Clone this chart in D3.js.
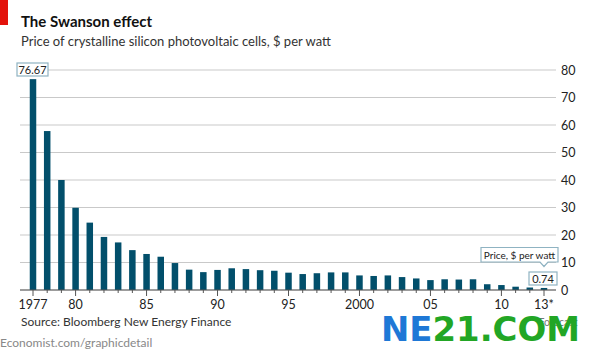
<!DOCTYPE html>
<meta charset="utf-8">
<head>
  <style>
  body { margin: 0; background: #fff; }
  svg { font-family: Lato, "Open Sans", sans-serif; }
  .grid line { stroke: #c9c9c9; stroke-width: 1; }
  .ylab { font-size: 12.5px; fill: #222; }
  .xlab { font-size: 12.5px; fill: #222; }
  .bar { fill: #024f6b; }
  .callout rect { fill: #fff; stroke: #8fb3c2; stroke-width: 1.2; }
  .callout text { font-size: 11px; fill: #222; }
  </style>
</head>
<body>
<svg width="595" height="353"></svg>
<script src="https://cdn.jsdelivr.net/npm/d3@7"></script>
<script>

// years 1977 - 2013 (2013 is a forecast)
var years = d3.range(1977, 2014);
var prices = [76.67, 57.8, 40.0, 29.9, 24.5, 19.3, 17.3, 14.5, 13.1, 12.1,
              9.8, 7.4, 6.5, 7.3, 7.9, 7.6, 7.2, 7.0, 6.3, 5.8,
              6.1, 6.4, 6.4, 5.3, 5.1, 5.3, 4.7, 4.2, 3.6, 3.9,
              3.8, 3.9, 2.1, 1.8, 1.2, 0.9, 0.74];
var yTicks = [0, 10, 20, 30, 40, 50, 60, 70, 80];
var xTickYears = [1977, 1980, 1985, 1990, 1995, 2000, 2005, 2010, 2013];
var xTickLabels = ["1977", "80", "85", "90", "95", "2000", "05", "10", "13*"];

var svg = d3.select("svg");

var x = d3.scalePoint().domain(years).range([33, 544]);
var y = d3.scaleLinear().domain([0, 80]).range([290, 70]);
var barW = 6.5;

// red tag + titles
svg.append("rect").attr("x", 0).attr("y", 0).attr("width", 8).attr("height", 25).attr("fill", "#e3120b");
svg.append("text").attr("x", 21).attr("y", 27)
   .style("font-size", "15px").style("font-weight", "bold").attr("fill", "#111")
   .text("The Swanson effect");
svg.append("text").attr("x", 21).attr("y", 46)
   .style("font-size", "13px").attr("fill", "#333")
   .text("Price of crystalline silicon photovoltaic cells, $ per watt");

// gridlines
var grid = svg.append("g").attr("class", "grid");
grid.selectAll("line").data(yTicks).enter().append("line")
    .attr("x1", 20).attr("x2", 556)
    .attr("y1", function(d) { return y(d); })
    .attr("y2", function(d) { return y(d); });

grid.selectAll("text").data(yTicks).enter().append("text")
    .attr("class", "ylab")
    .attr("x", 561)
    .attr("y", function(d) { return y(d) + 4.5; })
    .text(function(d) { return d; });

// bars
svg.selectAll(".bar").data(prices).enter().append("rect")
    .attr("class", "bar")
    .attr("x", function(d, i) { return x(years[i]) - barW / 2; })
    .attr("y", function(d) { return y(d); })
    .attr("width", barW)
    .attr("height", function(d) { return y(0) - y(d); });

// baseline + ticks
svg.append("line").attr("x1", 20).attr("x2", 556)
   .attr("y1", y(0)).attr("y2", y(0)).attr("stroke", "#555").attr("stroke-width", 1);

svg.selectAll(".tick").data(years).enter().append("line")
    .attr("x1", function(d) { return x(d); })
    .attr("x2", function(d) { return x(d); })
    .attr("y1", y(0))
    .attr("y2", function(d) { return xTickYears.indexOf(d) >= 0 ? y(0) + 6 : y(0) + 3; })
    .attr("stroke", "#555").attr("stroke-width", 1);

svg.selectAll(".xlab").data(xTickYears).enter().append("text")
    .attr("class", "xlab")
    .attr("x", function(d) { return x(d); })
    .attr("y", 309)
    .attr("text-anchor", "middle")
    .text(function(d, i) { return xTickLabels[i]; });

// callouts
var c1 = svg.append("g").attr("class", "callout");
c1.append("rect").attr("x", 17).attr("y", 63).attr("width", 31).attr("height", 13);
c1.append("text").attr("x", 32.5).attr("y", 73.5).attr("text-anchor", "middle").text("76.67");

var c2 = svg.append("g").attr("class", "callout");
c2.append("rect").attr("x", 529).attr("y", 272).attr("width", 28).attr("height", 13);
c2.append("text").attr("x", 543).attr("y", 282.5).attr("text-anchor", "middle").text("0.74");

var c3 = svg.append("g").attr("class", "callout");
c3.append("path")
  .attr("d", "M481,247.5 H558 V262 H548 L544,266.5 L540,262 H481 Z")
  .attr("fill", "#fff").attr("stroke", "#8fb3c2").attr("stroke-width", 1.2);
c3.append("text").attr("x", 519.5).attr("y", 258.5).attr("text-anchor", "middle")
  .style("font-size", "10px").text("Price, $ per watt");

// footer
svg.append("text").attr("x", 21).attr("y", 326).style("font-size", "12px").attr("fill", "#333")
   .text("Source: Bloomberg New Energy Finance");
svg.append("text").attr("x", 534).attr("y", 326).style("font-size", "10.5px").attr("fill", "#777")
   .text("*Forecast");
svg.append("text").attr("x", 0).attr("y", 347).style("font-size", "12px").attr("fill", "#888")
   .text("Economist.com/graphicdetail");

// watermark
var wm = svg.append("text").attr("x", 381).attr("y", 341)
   .style("font-size", "34px").style("font-weight", "900")
   .style("font-family", "\"DejaVu Sans\", sans-serif")
   .attr("textLength", 199).attr("lengthAdjust", "spacingAndGlyphs");
wm.append("tspan").attr("fill", "#1e78d6").text("NE");
wm.append("tspan").attr("fill", "#22a625").text("21.COM");

</script>
</body>
